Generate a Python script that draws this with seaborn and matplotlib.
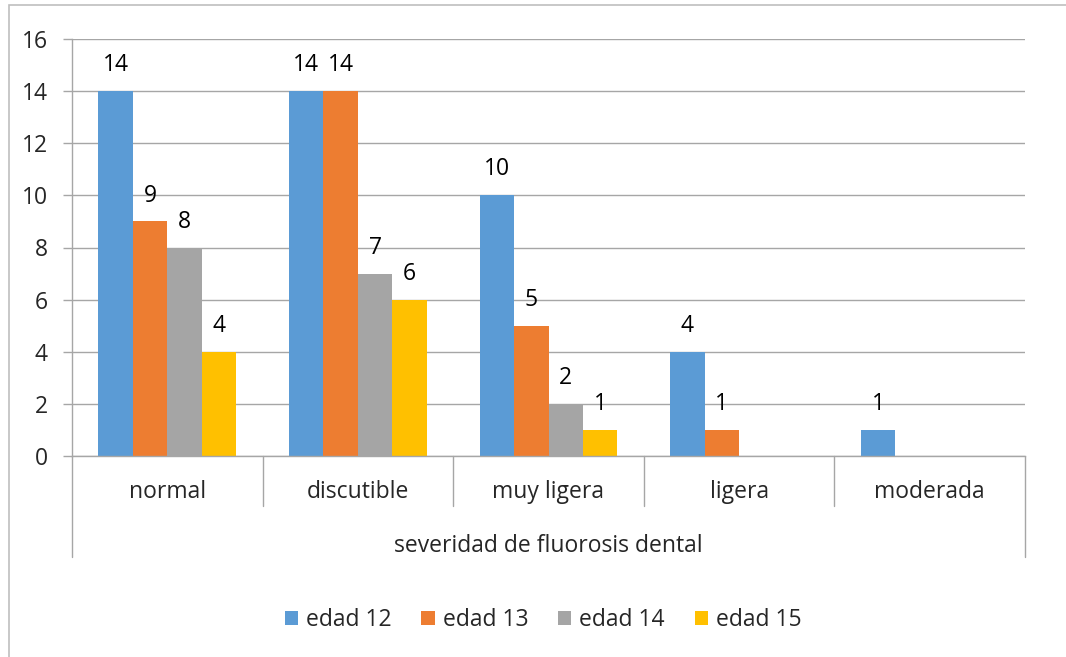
import pandas as pd
import numpy as np
import matplotlib
matplotlib.use('Agg')
import matplotlib.pyplot as plt
import seaborn as sns
from matplotlib.patches import Rectangle, Patch

# data
categorias = ['normal', 'discutible', 'muy ligera', 'ligera', 'moderada']
edades = ['edad 12', 'edad 13', 'edad 14', 'edad 15']
edad_12 = [14, 14, 10, 4, 1]
edad_13 = [9, 14, 5, 1, 0]
edad_14 = [8, 7, 2, 0, 0]
edad_15 = [4, 6, 1, 0, 0]
colores = ['#5B9BD5', '#ED7D31', '#A5A5A5', '#FFC000']
titulo_eje = 'severidad de fluorosis dental'

sns.set_theme(style='white')
plt.rcParams['font.family'] = ['Open Sans', 'DejaVu Sans']
FS = 16.5
GRIS = '#A6A6A6'

# long format for seaborn
df = pd.DataFrame({
    'severidad': categorias * 4,
    'edad': np.repeat(edades, len(categorias)),
    'valor': edad_12 + edad_13 + edad_14 + edad_15,
})

fig = plt.figure(figsize=(10.66, 6.57), dpi=100)
ax = fig.add_axes([72 / 1066, 1 - 456 / 657, (1025 - 72) / 1066, (456 - 39) / 657])

sns.barplot(data=df, x='severidad', y='valor', hue='edad', order=categorias,
            hue_order=edades, palette=colores, width=0.724, gap=0,
            linewidth=0, saturation=1, errorbar=None, legend=False, ax=ax)

# value labels, skip zeros
for cont in ax.containers:
    vals = cont.datavalues
    etiquetas = ['' if v == 0 else f'{v:g}' for v in vals]
    ax.bar_label(cont, labels=etiquetas, padding=10, fontsize=FS, color='black')

ax.set_ylim(0, 16)
ax.set_xlim(-0.5, len(categorias) - 0.5)
ax.set_yticks(range(0, 17, 2))
ax.yaxis.grid(True, color=GRIS, linewidth=1)
ax.set_axisbelow(True)
for s in ['top', 'right']:
    ax.spines[s].set_visible(False)
for s in ['left', 'bottom']:
    ax.spines[s].set_color(GRIS)
    ax.spines[s].set_linewidth(1)
ax.tick_params(axis='y', length=6.5, color=GRIS, width=1, labelsize=FS, pad=11, left=True)
ax.tick_params(axis='x', length=0, labelsize=FS, pad=17)
ax.set_ylabel('')
ax.set_xlabel(titulo_eje, fontsize=FS, labelpad=22)

# category separators (multi-level axis look)
h_corta = (506 - 456) / (456 - 39)
h_larga = (557 - 456) / (456 - 39)
trans = ax.get_xaxis_transform()
for i in range(len(categorias) + 1):
    xpos = i - 0.5
    h = h_larga if i in (0, len(categorias)) else h_corta
    ax.plot([xpos, xpos], [0, -h], color=GRIS, lw=1, transform=trans, clip_on=False)

# legend
handles = [Patch(facecolor=c, edgecolor='none') for c in colores]
fig.legend(handles, edades, loc='center', bbox_to_anchor=(543 / 1066, 1 - 620 / 657),
           ncol=4, frameon=False, fontsize=FS, handlelength=0.58, handleheight=0.58,
           handletextpad=0.35, columnspacing=1.3)

# outer chart border (partly cut off on the right and bottom)
fig.patches.append(Rectangle((9 / 1066, -0.02), 1.0, 1 - 5 / 657 + 0.02,
                             transform=fig.transFigure, fill=False,
                             edgecolor='#BFBFBF', linewidth=1.2))

fig.savefig('out.png', dpi=100)
plt.close(fig)
